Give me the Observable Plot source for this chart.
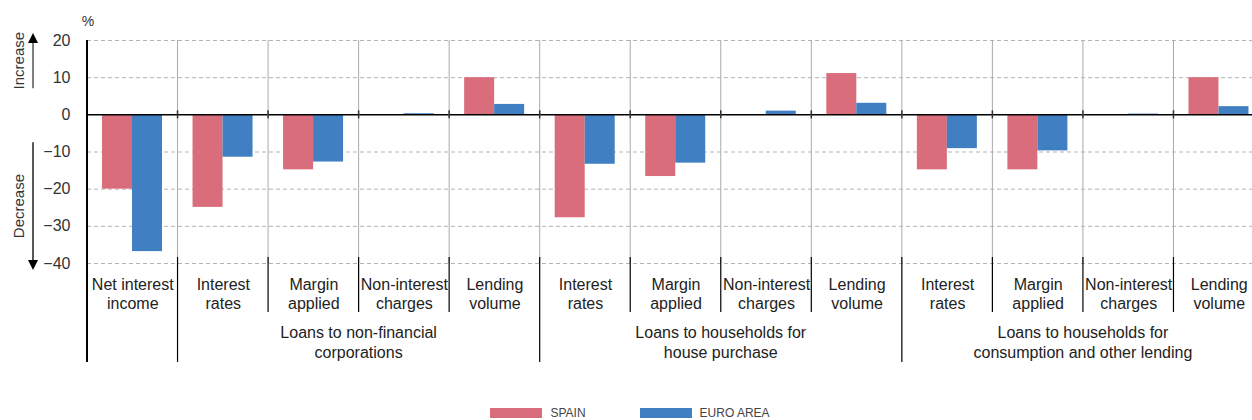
<!DOCTYPE html>
<html><head><meta charset="utf-8">
<script src="https://cdn.jsdelivr.net/npm/d3@7"></script>
<script src="https://cdn.jsdelivr.net/npm/@observablehq/plot@0.6"></script>
<style>
body{margin:0;background:#fff;font-family:"Liberation Sans",Arial,sans-serif;}
#chart svg{display:block;overflow:visible}
#legend{display:flex;justify-content:center;gap:54px;margin-top:7px;font-size:12px;color:#444;line-height:12px;padding-left:8px}
.item{display:flex;align-items:center;gap:8px}
.sw{width:52px;height:10px}
</style></head><body><div id="chart"></div><div id="legend"></div>
<script>
const columns = ["nii","nfc_ir","nfc_margin","nfc_charges","nfc_volume","hp_ir","hp_margin","hp_charges","hp_volume","co_ir","co_margin","co_charges","co_volume"];
const columnLabels = ["Net interest\nincome","Interest\nrates","Margin\napplied","Non-interest\ncharges","Lending\nvolume","Interest\nrates","Margin\napplied","Non-interest\ncharges","Lending\nvolume","Interest\nrates","Margin\napplied","Non-interest\ncharges","Lending\nvolume"];
const groupLabels = ["Loans to non-financial\ncorporations","Loans to households for\nhouse purchase","Loans to households for\nconsumption and other lending"];
const groupOf = [-1,0,0,0,0,1,1,1,1,2,2,2,2];
const seriesNames = ["SPAIN","EURO AREA"];
const seriesColors = ["#d96d7b","#407fc2"];
const spain =    [-20, -24.9, -14.8, 0,   10.0, -27.7, -16.6, 0,   11.1, -14.8, -14.8, 0,   10.0];
const euroArea = [-36.8, -11.4, -12.7, 0.3, 2.8, -13.3, -13.0, 1.0, 3.1, -9.1, -9.7, 0.2, 2.2];
const yTicks = [20,10,0,-10,-20,-30,-40];
const yGrid = [20,10,-10,-20,-30,-40];

const rows = [];
columns.forEach((c,i)=>{
  rows.push({col:c, series:seriesNames[0], value:spain[i]});
  rows.push({col:c, series:seriesNames[1], value:euroArea[i]});
});

const W = 1252, H = 400;
const xRange = [87, 1264];
const bw = (xRange[1]-xRange[0])/columns.length;
const barW = 30, barOff = 15;

const plot = Plot.plot({
  width: W, height: H,
  marginLeft: 87, marginRight: 0, marginTop: 40, marginBottom: 137,
  style: {fontFamily: "Liberation Sans, Arial, sans-serif", fontSize: "15px", color: "#333", background: "#fff"},
  x: {type: "band", domain: columns, range: xRange, padding: 0, round: false, axis: null},
  y: {domain: [-40, 20], range: [263, 40]},
  color: {domain: seriesNames, range: seriesColors},
  marks: [
    Plot.gridY(yGrid, {stroke: "#b3b3b3", strokeOpacity: 1, strokeDasharray: "4,3"}),
    Plot.barY(rows.filter(d=>d.series===seriesNames[0]), {x:"col", y:"value", fill:"series", insetLeft: barOff, insetRight: bw-barOff-barW}),
    Plot.barY(rows.filter(d=>d.series===seriesNames[1]), {x:"col", y:"value", fill:"series", insetLeft: barOff+barW, insetRight: bw-barOff-2*barW}),
    Plot.ruleY([0], {stroke: "#000", strokeWidth: 1.5}),
    Plot.axisY({ticks: yTicks, tickSize: 0, tickPadding: 17, fontSize: 16, fill: "#333", label: null}),
    Plot.text(columns, {x: d => d, text: (d, i) => columnLabels[i], frameAnchor: "bottom", lineAnchor: "top",
      dy: 13, fontSize: 16, lineHeight: 1.2, fill: "#222"})
  ]
});
document.getElementById("chart").appendChild(plot);

// overlay annotations using the plot's scales
const xs = plot.scale("x"), ys = plot.scale("y");
const svg = d3.select(plot);
const yTop = ys.apply(20), yBot = ys.apply(-40), y0 = ys.apply(0);
const xStart = c => xs.apply(c);
const g = svg.append("g");
// vertical separators in plot
columns.slice(1).forEach(c=>{
  g.append("line").attr("x1",xStart(c)).attr("x2",xStart(c)).attr("y1",yTop).attr("y2",yBot)
   .attr("stroke","#aaa").attr("stroke-width",1);
  g.append("line").attr("x1",xStart(c)).attr("x2",xStart(c)).attr("y1",y0-4).attr("y2",y0+4)
   .attr("stroke","#333").attr("stroke-width",1.5);
});
// label separators
columns.forEach((c,i)=>{
  const isGroupStart = i===0 || groupOf[i]!==groupOf[i-1];
  const x = xStart(c);
  g.append("line").attr("x1",x).attr("x2",x).attr("y1", i===0 ? yTop : yBot-6).attr("y2", isGroupStart ? 362 : 312)
   .attr("stroke","#000").attr("stroke-width", i===0 ? 2 : 1.2);
});
// group labels
groupLabels.forEach((lab,gi)=>{
  const idx = groupOf.map((v,i)=>v===gi?i:-1).filter(i=>i>=0);
  const x0 = xStart(columns[idx[0]]), x1 = xStart(columns[idx[idx.length-1]]) + xs.bandwidth;
  const t = g.append("text").attr("text-anchor","middle").attr("font-size",16).attr("fill","#222");
  lab.split("\n").forEach((l,li)=>{
    t.append("tspan").attr("x",(x0+x1)/2).attr("y", 338 + li*20).text(l);
  });
});
// % unit
g.append("text").attr("x",88).attr("y",26).attr("font-size",14).attr("fill","#333").text("%");
// Increase / Decrease arrows
const ax = 33;
g.append("line").attr("x1",ax).attr("x2",ax).attr("y1",ys.apply(7)).attr("y2",yTop).attr("stroke","#555").attr("stroke-width",1.5);
g.append("path").attr("d",`M${ax},${yTop-7} L${ax-5},${yTop+3} L${ax+5},${yTop+3} Z`).attr("fill","#000");
g.append("line").attr("x1",ax).attr("x2",ax).attr("y1",ys.apply(-7.5)).attr("y2",yBot).attr("stroke","#222").attr("stroke-width",1.5);
g.append("path").attr("d",`M${ax},${yBot+7} L${ax-5},${yBot-3} L${ax+5},${yBot-3} Z`).attr("fill","#000");
g.append("text").attr("transform",`translate(24,${(ys.apply(7)+yTop-7)/2}) rotate(-90)`).attr("text-anchor","middle")
  .attr("font-size",15).attr("fill","#333").text("Increase");
g.append("text").attr("transform",`translate(24,${(ys.apply(-7.5)+yBot+7)/2}) rotate(-90)`).attr("text-anchor","middle")
  .attr("font-size",15).attr("fill","#333").text("Decrease");

// legend
const legend = d3.select("#legend");
seriesNames.forEach((s,i)=>{
  const it = legend.append("div").attr("class","item");
  it.append("div").attr("class","sw").style("background",seriesColors[i]);
  it.append("span").text(s);
});
</script>
</body></html>
